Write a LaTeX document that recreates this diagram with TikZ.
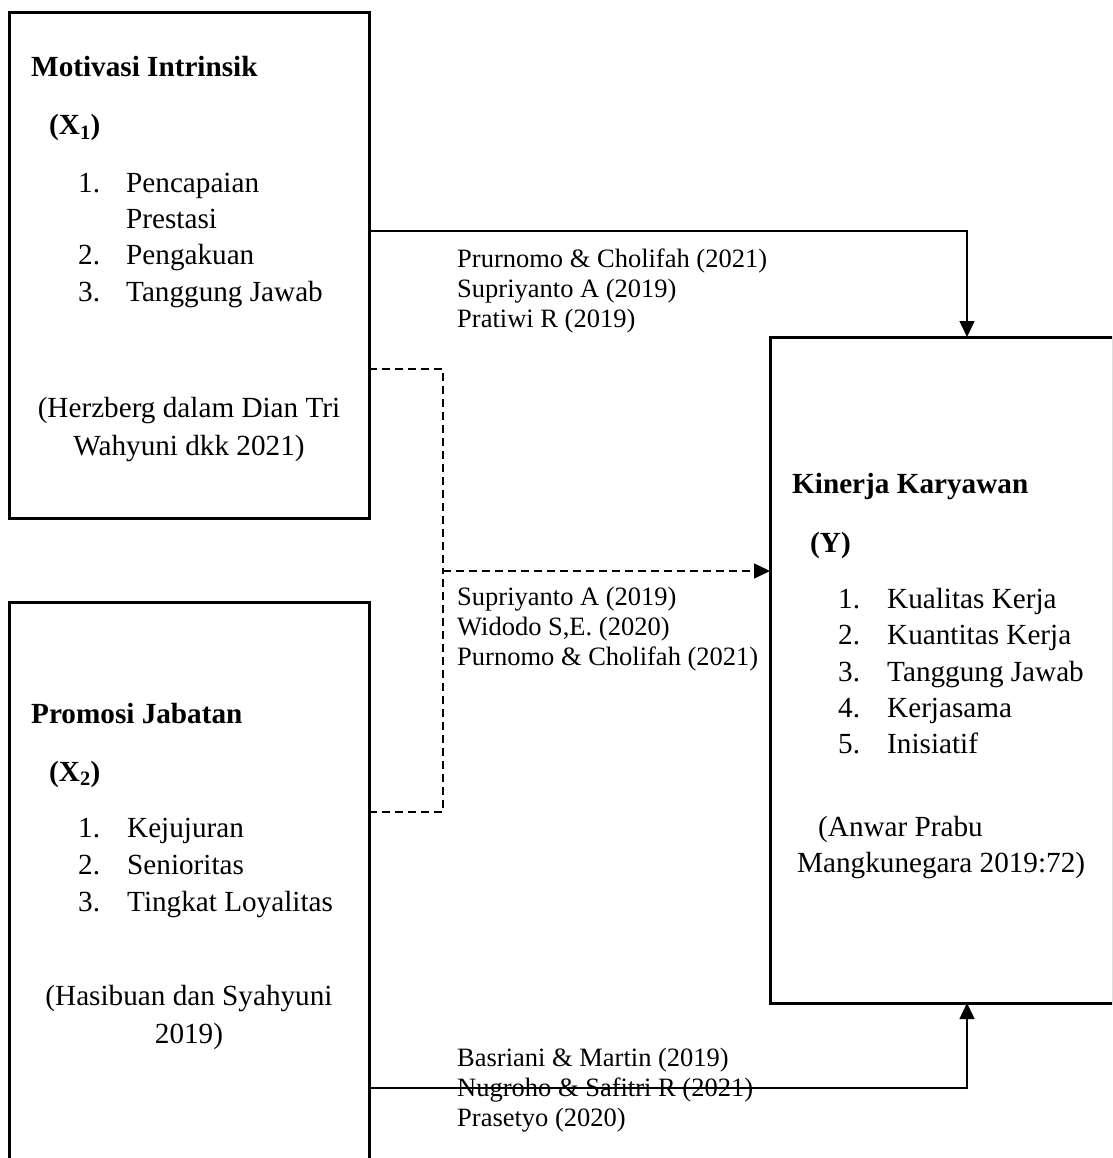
\documentclass[tikz,border=0pt]{standalone}
\usepackage{fontspec}
\setmainfont{Liberation Serif}
\usetikzlibrary{arrows.meta}

\tikzset{
  varbox/.style={draw, line width=3pt, inner sep=0pt, outer sep=0pt},
  head/.style={font=\fontsize{29.2}{36}\selectfont\bfseries, anchor=base west, inner sep=0pt},
  item/.style={font=\fontsize{29.2}{36}\selectfont, anchor=base west, inner sep=0pt},
  source/.style={font=\fontsize{29.2}{38}\selectfont, anchor=base, align=center, inner sep=0pt},
  cite/.style={font=\fontsize{26.5}{30}\selectfont, anchor=base west, align=left, inner sep=0pt},
  link/.style={line width=1.5pt, -{Triangle[length=16pt, width=15pt]}},
  dashlink/.style={line width=1.5pt, dash pattern=on 8pt off 5pt},
}

\begin{document}
\begin{tikzpicture}[x=1pt, y=-1pt, line join=miter]
  \useasboundingbox (0,0) rectangle (1112,1158);
  \clip (0,0) rectangle (1112,1158);

  % Kotak variabel
  \node[varbox, minimum width=360pt, minimum height=505pt] (mot) at (189,265.5) {};
  \node[varbox, minimum width=360pt, minimum height=600pt] (pro) at (189,902) {};
  \node[varbox, minimum width=343pt, minimum height=666pt] (kin) at (941.5,670) {};

  % Motivasi Intrinsik (X1)
  \node[head] (motT) at (31,77) {Motivasi Intrinsik};
  \node[head] (motX) at (49,135) {(X\textsubscript{1})};
  \foreach \n/\t/\y [count=\i] in {1./Pencapaian/193, /Prestasi/229, 2./Pengakuan/265, 3./Tanggung Jawab/301} {
    \node[item] (motN\i) at (78,\y) {\n};
    \node[item] (motI\i) at (126,\y) {\t};
  }
  % base = baris terakhir
  \node[source] (motS) at (189,455) {(Herzberg dalam Dian Tri\\Wahyuni dkk 2021)};

  % Promosi Jabatan (X2)
  \node[head] (proT) at (31,723) {Promosi Jabatan};
  \node[head] (proX) at (49,781) {(X\textsubscript{2})};
  \foreach \n/\t/\y [count=\i] in {1./Kejujuran/837, 2./Senioritas/874, 3./Tingkat Loyalitas/911} {
    \node[item] (proN\i) at (78,\y) {\n};
    \node[item] (proI\i) at (127,\y) {\t};
  }
  \node[source] (proS) at (189,1043) {(Hasibuan dan Syahyuni\\2019)};

  % Kinerja Karyawan (Y)
  \node[head] (kinT) at (792,493) {Kinerja Karyawan};
  \node[head] (kinY) at (810,552) {(Y)};
  \foreach \n/\t/\y [count=\i] in {1./Kualitas Kerja/608, 2./Kuantitas Kerja/644, 3./Tanggung Jawab/681, 4./Kerjasama/717, 5./Inisiatif/753} {
    \node[item] (kinN\i) at (838,\y) {\n};
    \node[item] (kinI\i) at (887,\y) {\t};
  }
  \node[item] (kinS1) at (818,836) {(Anwar Prabu};
  \node[item] (kinS2) at (797,872) {Mangkunegara 2019:72)};

  % Rujukan penelitian
  \node[cite] (citeA) at (457,327) {Prurnomo \& Cholifah (2021)\\Supriyanto A (2019)\\Pratiwi R (2019)};
  \node[cite] (citeB) at (457,665) {Supriyanto A (2019)\\Widodo S,E. (2020)\\Purnomo \& Cholifah (2021)};
  \node[cite] (citeC) at (457,1126) {Basriani \& Martin (2019)\\Nugroho \& Safitri R (2021)\\Prasetyo (2020)};

  % Titik belok garis
  \coordinate (topbend) at (967,231);
  \coordinate (dashA) at (443,369);
  \coordinate (dashB) at (443,812);
  \coordinate (dashmid) at (443,571);
  \coordinate (botbend) at (967,1088);

  % Hubungan antar variabel
  \draw[link] (mot.east |- topbend) -| (kin.north -| topbend);
  \draw[dashlink] (mot.east |- dashA) -- (dashA) -- (dashmid);
  \draw[dashlink] (pro.east |- dashB) -- (dashB) -- (dashmid);
  \draw[dashlink, -{Triangle[length=16pt, width=15pt]}] (dashmid) -- (kin.west |- dashmid);
  \draw[link] (pro.east |- botbend) -| (kin.south -| botbend);
\end{tikzpicture}
\end{document}
